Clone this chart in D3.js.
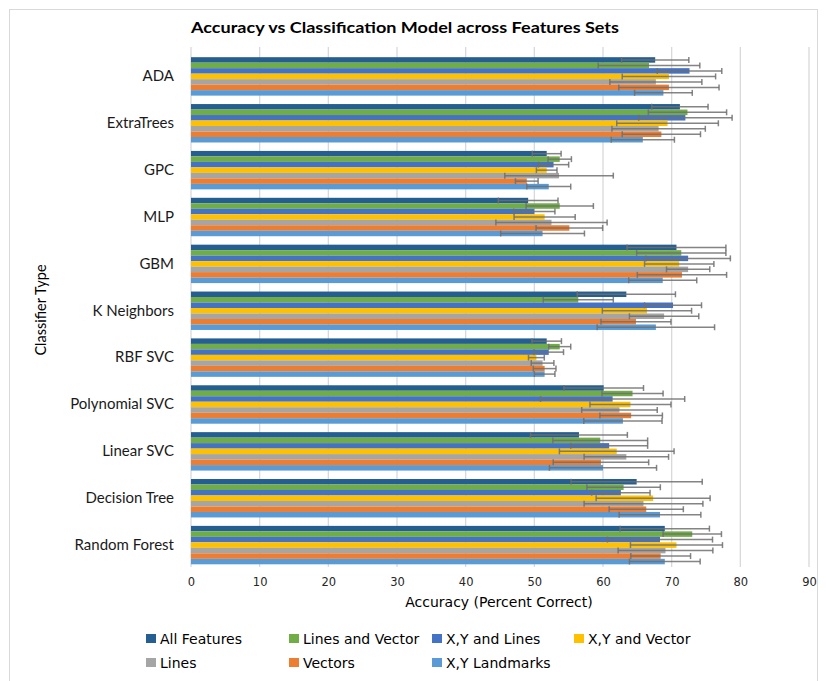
<!DOCTYPE html>
<html>
<head>
<meta charset="utf-8">
<script src="https://cdn.jsdelivr.net/npm/d3@7"></script>
<style>
  html, body { margin: 0; padding: 0; background: #fff; }
  svg { display: block; }
</style>
</head>
<body>
<svg id="chart" width="826" height="681"></svg>
<script>
// ---------- DATA ----------
const categories = ["ADA", "ExtraTrees", "GPC", "MLP", "GBM", "K Neighbors", "RBF SVC",
  "Polynomial SVC", "Linear SVC", "Decision Tree", "Random Forest"];
const seriesNames = ["All Features", "Lines and Vector", "X,Y and Lines", "X,Y and Vector",
  "Lines", "Vectors", "X,Y Landmarks"];
const seriesColors = ["#255E91", "#70AD47", "#4472C4", "#FFC000", "#A5A5A5", "#ED7D31", "#5B9BD5"];

// mean accuracy, one array per series, in category order
const allFeatures    = [67.6, 71.2, 51.8, 49.1, 70.7, 63.4, 51.8, 60.1, 56.5, 64.9, 69.0];
const linesVector    = [66.7, 72.3, 53.7, 53.7, 71.4, 56.4, 53.7, 64.3, 59.6, 63.0, 73.0];
const xyLines        = [72.6, 72.0, 52.8, 50.0, 72.4, 70.2, 52.1, 61.4, 60.9, 62.6, 68.3];
const xyVector       = [69.6, 69.4, 51.8, 51.5, 71.1, 66.4, 50.3, 64.0, 62.0, 67.3, 70.7];
const lines          = [67.7, 68.1, 53.6, 52.5, 72.4, 68.9, 51.2, 62.4, 63.4, 65.9, 69.1];
const vectors        = [69.6, 68.5, 48.9, 55.1, 71.5, 64.8, 51.5, 64.1, 59.7, 66.3, 68.4];
const xyLandmarks    = [68.8, 65.8, 52.1, 51.2, 68.7, 67.7, 51.5, 62.9, 60.0, 68.3, 69.0];

// error (± half-width) per series
const errAllFeatures = [4.9, 4.1, 2.1, 4.35, 7.2, 7.15, 2.15, 5.8, 7.05, 9.55, 6.5];
const errLinesVector = [7.4, 5.7, 1.7, 4.9, 6.5, 5.1, 1.6, 4.45, 6.9, 5.35, 4.25];
const errXyLines     = [4.7, 6.8, 2.2, 3.0, 6.15, 4.15, 2.15, 10.5, 5.6, 4.25, 7.65];
const errXyVector    = [6.8, 7.4, 1.5, 4.45, 5.05, 6.5, 1.15, 5.9, 8.35, 8.3, 6.7];
const errLines       = [6.7, 6.8, 7.9, 8.1, 3.15, 5.05, 1.65, 5.5, 6.15, 8.65, 6.9];
const errVectors     = [7.3, 5.7, 1.65, 4.85, 6.5, 5.1, 1.65, 4.55, 6.95, 5.4, 4.35];
const errXyLandmarks = [4.2, 4.6, 3.2, 6.1, 4.95, 8.55, 1.5, 5.7, 7.8, 5.95, 5.15];

const xTicks = [0, 10, 20, 30, 40, 50, 60, 70, 80, 90];

const seriesValues = [allFeatures, linesVector, xyLines, xyVector, lines, vectors, xyLandmarks];
const seriesErrors = [errAllFeatures, errLinesVector, errXyLines, errXyVector, errLines, errVectors, errXyLandmarks];

// ---------- CHART ----------
const svg = d3.select("#chart");
const font = "'DejaVu Sans', Verdana, sans-serif";
const font2 = "Lato, 'Open Sans', sans-serif";

// outer frame
svg.append("rect").attr("x", 9.5).attr("y", 9.5).attr("width", 808).attr("height", 690)
  .attr("fill", "#fff").attr("stroke", "#D9D9D9").attr("stroke-width", 1);

const x = d3.scaleLinear().domain([0, 90]).range([191, 809]);
const y = d3.scaleBand().domain(categories).range([52.5, 569]).paddingInner(0.18).paddingOuter(0.1);
const yInner = d3.scaleBand().domain(seriesNames).range([0, y.bandwidth()]);

// gridlines
svg.append("g").selectAll("line").data(xTicks).join("line")
  .attr("x1", d => x(d)).attr("x2", d => x(d))
  .attr("y1", 47).attr("y2", 567)
  .attr("stroke", "#D9D9D9").attr("stroke-width", 1.3);

// x axis tick labels
const xAxis = d3.axisBottom(x).tickValues(xTicks).tickSize(0).tickPadding(0);
const gx = svg.append("g").attr("transform", "translate(0,578)").call(xAxis);
gx.select(".domain").remove();
gx.selectAll("text").attr("font-family", font).attr("font-size", 11.5).attr("fill", "#262626")
  .attr("dy", "0.71em");

// y axis category labels
const yAxis = d3.axisLeft(y).tickSize(0).tickPadding(0);
const gy = svg.append("g").attr("transform", "translate(174,0)").call(yAxis);
gy.select(".domain").remove();
gy.selectAll("text").attr("font-family", font2).attr("font-size", 15).attr("fill", "#1a1a1a");

// bars
const groups = svg.append("g").selectAll("g").data(categories).join("g")
  .attr("transform", d => `translate(0,${y(d)})`);

groups.each(function (cat, ci) {
  const g = d3.select(this);
  seriesNames.forEach((s, si) => {
    g.append("rect")
      .attr("x", x(0))
      .attr("y", yInner(s))
      .attr("width", x(seriesValues[si][ci]) - x(0))
      .attr("height", yInner.bandwidth())
      .attr("fill", seriesColors[si]);
  });
});

// error bars
groups.each(function (cat, ci) {
  const g = d3.select(this);
  seriesNames.forEach((s, si) => {
    const v = seriesValues[si][ci], e = seriesErrors[si][ci];
    const cy = yInner(s) + yInner.bandwidth() / 2;
    const lo = x(v - e), hi = x(v + e);
    const eg = g.append("g").attr("stroke", "#6E6E6E").attr("stroke-opacity", 0.85).attr("stroke-width", 1.5);
    eg.append("line").attr("x1", lo).attr("x2", hi).attr("y1", cy).attr("y2", cy);
    eg.append("line").attr("x1", lo).attr("x2", lo).attr("y1", cy - 3).attr("y2", cy + 3);
    eg.append("line").attr("x1", hi).attr("x2", hi).attr("y1", cy - 3).attr("y2", cy + 3);
  });
});

// title
svg.append("text").attr("x", 405).attr("y", 33).attr("text-anchor", "middle")
  .attr("font-family", font2).attr("font-weight", "bold")
  .attr("font-size", 16).attr("fill", "#000")
  .attr("textLength", 428).attr("lengthAdjust", "spacingAndGlyphs")
  .text("Accuracy vs Classification  Model across Features Sets");

// axis titles
svg.append("text").attr("x", 499).attr("y", 607).attr("text-anchor", "middle")
  .attr("font-family", font).attr("font-size", 14).attr("fill", "#000")
  .text("Accuracy (Percent Correct)");

svg.append("text").attr("transform", "translate(46,310) rotate(-90)").attr("text-anchor", "middle")
  .attr("font-family", font2).attr("font-size", 14.5).attr("fill", "#000")
  .text("Classifier Type");

// legend
const legendX = [146, 289, 432, 574];
const legendY = [639, 663];
const legend = svg.append("g").selectAll("g").data(seriesNames).join("g")
  .attr("transform", (d, i) => `translate(${legendX[i % 4]},${legendY[Math.floor(i / 4)]})`);
legend.append("rect").attr("x", 0).attr("y", -5).attr("width", 10).attr("height", 9)
  .attr("fill", (d, i) => seriesColors[i]);
legend.append("text").attr("x", 14).attr("y", 0).attr("dy", "0.35em")
  .attr("font-family", font).attr("font-size", 14).attr("fill", "#000")
  .text(d => d);
</script>
</body>
</html>
